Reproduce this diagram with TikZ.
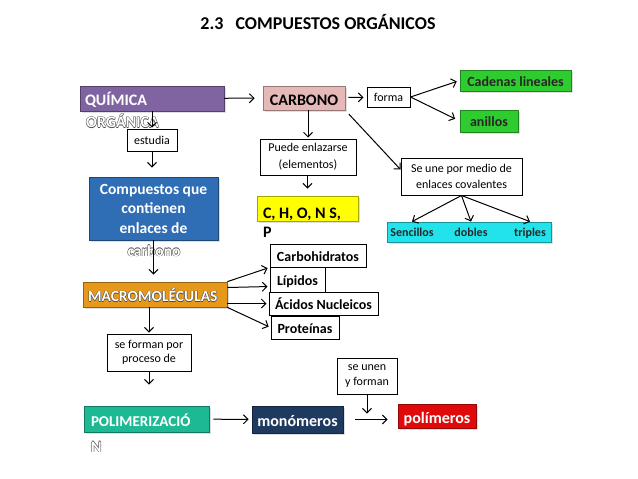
\documentclass[tikz,border=0pt]{standalone}
\usepackage{fontspec}
\setmainfont{Carlito}
\usetikzlibrary{arrows.meta,calc,shadows}
\definecolor{QuimClr}{HTML}{8064A2}
\definecolor{CarbClr}{HTML}{E6B9B8}
\definecolor{VerdeClr}{HTML}{2ECC2E}
\definecolor{AmarClr}{HTML}{FFFF00}
\definecolor{AzulClr}{HTML}{2F6DB5}
\definecolor{NaranjaClr}{HTML}{E59819}
\definecolor{CianClr}{HTML}{22E3EC}
\definecolor{TealClr}{HTML}{1DB894}
\definecolor{NavyClr}{HTML}{1F3A5F}
\definecolor{RojoClr}{HTML}{E00A0A}

% letras blancas con borde oscuro
\newcommand\contorno[1]{%
  \makebox[0pt][l]{\color{black!70}\hspace*{-.5pt}#1}%
  \makebox[0pt][l]{\color{black!70}\hspace*{.5pt}#1}%
  \makebox[0pt][l]{\color{black!70}\raisebox{.5pt}{#1}}%
  \makebox[0pt][l]{\color{black!70}\raisebox{-.5pt}{#1}}%
  {\color{white}#1}}

\tikzset{
  flecha/.style={-{Straight Barb[length=4.5pt,width=9pt]},line width=1pt},
  caja/.style={draw,line width=1pt,fill=white,font=\fontsize{12}{14.5}\selectfont,align=center,inner sep=2pt},
  relleno/.style={fill=#1,draw=#1!65!black,line width=.8pt,
    drop shadow={opacity=.25,shadow xshift=2pt,shadow yshift=-2pt},
    font=\fontsize{16}{19}\selectfont\bfseries,inner sep=0pt,text height=16pt,text depth=2pt},
  lista/.style={draw,line width=1pt,fill=white,font=\fontsize{14}{16}\selectfont\bfseries,inner sep=2pt,text height=12pt,text depth=1pt},
  desborde/.style={font=\fontsize{16}{19}\selectfont\bfseries,inner sep=0pt},
  palabra/.style={font=\fontsize{12}{14}\selectfont\bfseries,text=black!85,inner sep=0pt,anchor=base}
}

\begin{document}
\begin{tikzpicture}[x=1pt,y=-1pt]
\useasboundingbox (0,0) rectangle (638,479);

\node[font=\fontsize{18}{20}\selectfont\bfseries] (tit) at (318,22) {2.3\hspace{12pt}COMPUESTOS ORGÁNICOS};

% columna izquierda
\node[relleno=QuimClr,text=white,minimum width=144pt,minimum height=25pt,text width=134pt,align=flush left] (quim) at (152,98.5) {QUÍMICA};
\node[desborde,anchor=west] (quimb) at (86,121) {\contorno{ORGÁNICA}};
\node[caja,minimum width=50pt,minimum height=22pt] (est) at (152,140) {estudia};
\node[relleno=AzulClr,text=white,minimum width=129pt,minimum height=63pt,text width=119pt,align=flush center,text height=,text depth=,font=\fontsize{15.5}{19.5}\selectfont\bfseries] (comp) at (153.5,208.5) {Compuestos que\\contienen\\enlaces de};
\node[desborde,font=\fontsize{15.5}{19}\selectfont\bfseries] (compb) at (154,251) {\contorno{carbono}};
\node[relleno=NaranjaClr,minimum width=144pt,minimum height=25pt,text width=134pt,align=flush left,font=\fontsize{15.5}{19}\selectfont\bfseries] (macro) at (155,294.5) {\contorno{MACROMOLÉCULAS}};
\node[caja,minimum width=84pt,minimum height=37pt] (sef) at (149,352.5) {se forman por\\proceso de};
\node[relleno=TealClr,text=white,minimum width=125pt,minimum height=26pt,text width=111pt,align=flush left,font=\fontsize{15}{19}\selectfont\bfseries] (pol) at (146.5,419) {POLIMERIZACIÓ};
\node[desborde,anchor=west] (polb) at (91,447) {\contorno{N}};

% columna central
\node[relleno=CarbClr,minimum width=82pt,minimum height=24pt] (carb) at (304,98) {CARBONO};
\node[caja,minimum width=96pt,minimum height=36pt,font=\fontsize{12}{17}\selectfont] (pue) at (308,157) {Puede enlazarse\\(elementos)};
\node[relleno=AmarClr,minimum width=101pt,minimum height=25pt,text width=89pt,align=flush left,text height=20pt,text depth=1pt] (yel) at (307.5,208.5) {C, H, O, N S,};
\node[desborde,anchor=west] (yelb) at (263,232) {P};
\node[lista,minimum width=96pt,minimum height=23pt] (carbh) at (318,255.5) {Carbohidratos};
\node[lista,minimum width=55pt,minimum height=25pt] (lip) at (297.5,279.5) {Lípidos};
\node[lista,minimum width=109pt,minimum height=23pt] (aci) at (323.5,303.5) {Ácidos Nucleicos};
\node[lista,minimum width=68pt,minimum height=23pt] (prot) at (305,327.5) {Proteínas};
\node[relleno=NavyClr,text=white,minimum width=91pt,minimum height=27pt] (mon) at (297.5,419.5) {monómeros};
\node[caja,minimum width=60pt,minimum height=36pt] (unen) at (367,376) {se unen\\y forman};
\node[relleno=RojoClr,text=white,minimum width=78pt,minimum height=24pt] (polm) at (437,416) {polímeros};

% columna derecha
\node[caja,minimum width=43pt,minimum height=20pt] (forma) at (388.5,97) {forma};
\node[relleno=VerdeClr,text=black!85,minimum width=111pt,minimum height=21pt,font=\fontsize{14}{16}\selectfont\bfseries,text height=13pt] (cad) at (515.5,80.5) {Cadenas lineales};
\node[relleno=VerdeClr,text=black!85,minimum width=58pt,minimum height=22pt,font=\fontsize{14}{16}\selectfont\bfseries,text height=13pt] (ani) at (489,121) {anillos};
\node[caja,minimum width=121pt,minimum height=37pt,font=\fontsize{12}{16}\selectfont] (seune) at (461.5,176.5) {Se une por medio de\\enlaces covalentes};
\node[relleno=CianClr,minimum width=164pt,minimum height=20pt] (enl) at (469,232) {};
\node[palabra] (sen) at (412,236) {Sencillos};
\node[palabra] (dob) at (471,236) {dobles};
\node[palabra] (tri) at (530,236) {triples};

\draw[flecha,shorten >=8pt] (quim) -- (carb);
\draw[flecha,shorten <=3pt,shorten >=3pt] (carb) -- (forma);
\draw[flecha,shorten >=3pt] (forma.east) -- (cad.west);
\draw[flecha,shorten >=5pt] (forma.east) -- (ani.west);
\draw[flecha,shorten <=5pt] (carb.south east) -- ($(seune.west)+(0,-7)$);
\draw[flecha] (seune.south) -- (enl.north -| sen);
\draw[flecha] (seune.south) -- (enl.north -| dob);
\draw[flecha] (seune.south) -- (enl.north -| tri);

\draw[flecha,shorten >=1pt] (carb.south -| pue.north) -- (pue.north);
\draw[flecha,shorten >=7pt] (pue.south -| yel.north) -- (yel.north);

\draw[flecha,shorten >=1pt] (quim.south -| est.north) -- (est.north);
\draw[flecha,shorten >=9pt] (est.south) -- (est.south |- comp.north);
\draw[flecha,shorten >=7pt] (comp.south) -- (comp.south |- macro.north);
\draw[flecha,shorten >=1pt] (macro.south -| sef.north) -- (sef.north);
\draw[flecha,shorten >=21pt] (sef.south) -- (sef.south |- pol.north);

\draw[flecha,shorten >=2pt] (macro.north east) -- (carbh.south west);
\draw[flecha,shorten >=2pt] ($(macro.east)+(0,-7)$) -- ($(lip.west)+(0,7)$);
\draw[flecha,shorten >=2pt] (macro.east |- aci.west) -- (aci.west);
\draw[flecha,shorten >=2pt] (macro.south east) -- (prot.west);

\draw[flecha,shorten <=4pt,shorten >=3pt] (pol) -- (mon);
\draw[flecha,shorten <=12pt,shorten >=10pt] (mon.east) -- (mon.east -| polm.west);
\draw[flecha,shorten >=6pt] (unen.south) -- (unen.south |- mon.east);

\end{tikzpicture}
\end{document}
